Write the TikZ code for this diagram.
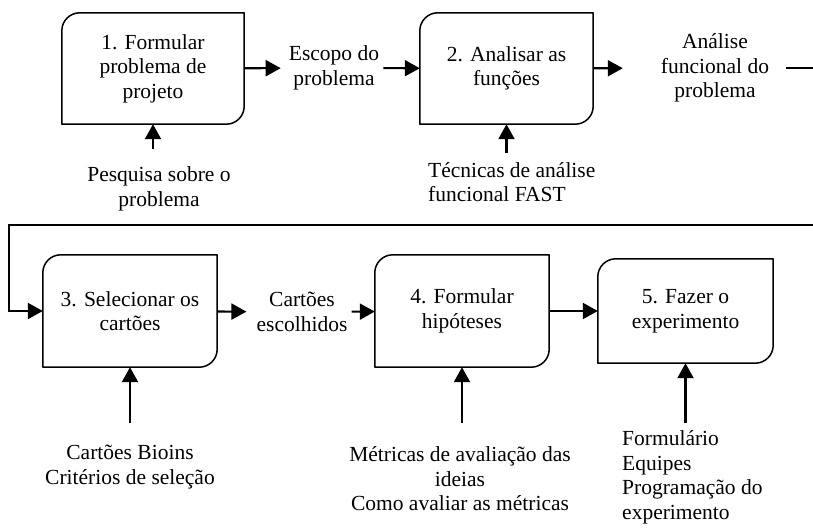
\documentclass[tikz,border=0pt]{standalone}
\usepackage{fontspec}
\setmainfont{Liberation Serif}
\usetikzlibrary{arrows.meta}

\begin{document}
\begin{tikzpicture}[
      x=1pt, y=-1pt,
      txt/.style={align=center, inner sep=4pt, font=\fontsize{21.5}{24.5}\selectfont},
      proc/.style={txt, inner sep=0pt},
      note/.style={txt},
      frame/.style={line width=1.5pt, line join=round},
      wire/.style={line width=2.1pt},
      arr/.style={wire, -{Triangle[length=15pt, width=16pt]}}
    ]
    \useasboundingbox (0,0) rectangle (813,529);

    % Process steps
    \node[proc, minimum width=182pt, minimum height=111pt] (f1) at (153,68.5) {1. Formular\\problema de\\projeto};
    \node[proc, minimum width=173pt, minimum height=111pt] (f2) at (506.5,68.5) {2. Analisar as\\funções};
    \node[proc, minimum width=174pt, minimum height=112pt] (f3) at (130,311) {3. Selecionar os\\cartões};
    \node[proc, minimum width=174pt, minimum height=112pt] (f4) at (462,311) {4. Formular\\hipóteses};
    \node[proc, minimum width=175pt, minimum height=104pt] (f5) at (685.5,311) {5. Fazer o\\experimento};

    \foreach \b in {f1,f2,f3,f4,f5}
      \draw[frame] (\b.north east) -- ([xshift=18pt]\b.north west)
        arc[start angle=90, end angle=180, radius=18pt] -- (\b.south west)
        -- ([xshift=-18pt]\b.south east)
        arc[start angle=-90, end angle=0, radius=18pt] -- cycle;

    % Outputs
    \node[note] (escopo) at (334,68) {Escopo do\\problema};
    \node[note] (analise) at (715,68) {Análise\\funcional do\\problema};
    \node[note] (escolhidos) at (302,312) {Cartões\\escolhidos};

    % Inputs
    \node[note] (pesquisa) at (159,189) {Pesquisa sobre o\\problema};
    \node[note, align=left, anchor=west] (tecnicas) at (424,182) {Técnicas de análise\\funcional FAST};
    \node[note] (bioins) at (130,467) {Cartões Bioins\\Critérios de seleção};
    \node[note] (metricas) at (460,479) {Métricas de avaliação das\\ideias\\Como avaliar as métricas};
    \node[note, align=left, anchor=west] (formulario) at (618,477.5) {Formulário\\Equipes\\Programação do\\experimento};

    \coordinate (r1) at (813,70);
    \coordinate (r2) at (813,225);
    \coordinate (l2) at (9,225);
    \coordinate (t1) at (153,149);
    \coordinate (t2) at (506.5,153);
    \coordinate (t3) at (130,423);
    \coordinate (t4) at (462,423);
    \coordinate (t5) at (685.5,423);

    % Flow
    \draw[arr, shorten >=4pt] (f1) -- (escopo);
    \draw[arr] (escopo) -- (f2);
    \draw[arr, shorten >=34pt] (f2) -- (analise);
    \draw[wire, shorten <=13pt] (analise.east) -- (analise.east -| r1);
    \draw[arr] (r2) -- (l2) |- (f3);
    \draw[arr, shorten >=6pt] (f3) -- (escolhidos);
    \draw[arr] (escolhidos) -- (f4);
    \draw[arr] (f4) -- (f5);

    % Feeds
    \draw[arr] (t1) -- (t1 |- f1.south);
    \draw[arr] (t2) -- (t2 |- f2.south);
    \draw[arr] (t3) -- (t3 |- f3.south);
    \draw[arr] (t4) -- (t4 |- f4.south);
    \draw[arr] (t5) -- (t5 |- f5.south);
  \end{tikzpicture}
\end{document}
